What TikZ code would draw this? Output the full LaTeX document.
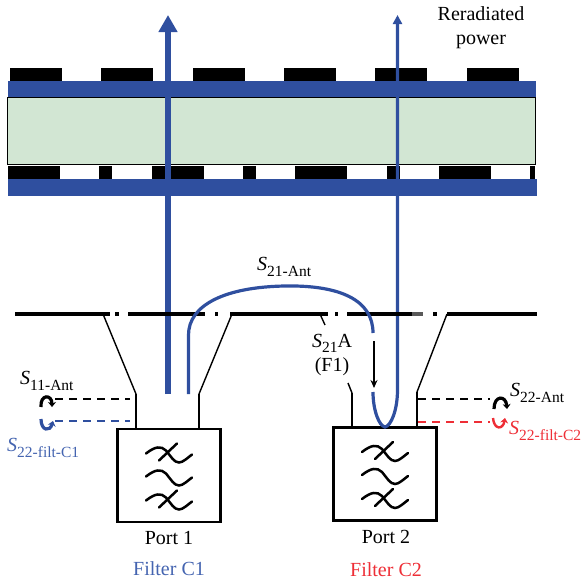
\documentclass[tikz,border=0pt]{standalone}
\usepackage{fontspec}
\setmainfont{Liberation Serif}
\usetikzlibrary{positioning, arrows.meta, calc}

\definecolor{bandblue}{HTML}{2F4F9F}
\definecolor{labelblue}{HTML}{4464B0}
\definecolor{labelred}{HTML}{EE2E36}
\definecolor{substrate}{HTML}{D2E6D3}

\newcommand{\sparam}[1]{\textit{S}\raisebox{-0.26em}{\fontsize{15.5}{15.5}\selectfont #1}}

\begin{document}
\begin{tikzpicture}[
                x=1pt,
                y=-1pt,
                >=stealth,
                every node/.style={font=\fontsize{20}{24.5}\selectfont, inner sep=0pt},
                patch/.style={fill=black, draw=none},
                band/.style={fill=bandblue, draw=none},
                horn/.style={line width=1.4pt},
                neck/.style={line width=2.2pt},
                filterbox/.style={draw, line width=2.6pt, fill=white, minimum width=103pt, minimum height=93pt},
                feed/.style={draw=bandblue, line width=3.2pt},
                probe/.style={dashed, dash pattern=on 8pt off 6pt, line width=1.3pt},
                loopback/.style={line width=3.2pt, -{Stealth[length=5pt, width=8pt]}},
                ground/.style={line width=4.2pt},
            ]
                \useasboundingbox (0,0) rectangle (582,581);

                % Draw the substrate and the two bands
                \node[draw, line width=1.1pt, fill=substrate, minimum width=528pt, minimum height=67pt, anchor=north west] (substrate) at (7,97) {};
                \node[band, minimum width=528pt, minimum height=16pt, anchor=north west] (band-top) at (8,81) {};
                \node[band, minimum width=529pt, minimum height=17pt, anchor=north west] (band-bottom) at (8,179) {};

                % Draw the patches above and below
                \foreach \name / \x in {1/10, 2/101, 3/193, 4/284, 5/375, 6/467}
                    \node[patch, minimum width=52pt, minimum height=13pt, anchor=south west] (T-\name) at (\x,81) {};
                \foreach \name / \x / \w in {1/8/52, 2/99/13, 3/152/52, 4/243/13, 5/295/52, 6/387/13, 7/439/52, 8/530/5}
                    \node[patch, minimum width=\w pt, minimum height=13pt, anchor=south west] (B-\name) at (\x,179) {};

                % Draw the two filters
                \node[filterbox] (F-1) at (169,475.5) {};
                \node[filterbox] (F-2) at (385,474) {};
                \foreach \name in {1, 2}
                    \foreach \y in {-22, 1, 25}
                        \draw[line width=2.5pt, line cap=round, shift={($(F-\name)+(0,\y)$)}]
                            (-23,0) .. controls (-14,-7) and (-8,-8) .. (-3,-3)
                            .. controls (2,3) and (5,9) .. (10,9)
                            .. controls (14,9) and (19,4) .. (23,1);
                \foreach \name in {1, 2}
                    \foreach \y in {-22, 25}
                        \draw[line width=2.5pt, line cap=round, shift={($(F-\name)+(0,\y)$)}] (-10,7) -- (8,-10);

                % Draw the horn walls
                \coordinate (H-1a) at (103,314);
                \coordinate (H-1b) at (136,394);
                \coordinate (H-1c) at (232,314);
                \coordinate (H-1d) at (199,394);
                \coordinate (H-2a) at (320,314);
                \coordinate (H-2b) at (325,325);
                \coordinate (H-2c) at (348,383);
                \coordinate (H-2d) at (352,393);
                \coordinate (H-2e) at (447,314);
                \coordinate (H-2f) at (417,392);
                \draw[horn] (H-1a) -- (H-1b);
                \draw[horn] (H-1c) -- (H-1d);
                \draw[horn] (H-2a) -- (H-2b);
                \draw[horn] (H-2c) -- (H-2d);
                \draw[horn] (H-2e) -- (H-2f);
                \draw[neck] (H-1b) -- (H-1b |- F-1.north);
                \draw[neck] (H-1d) -- (H-1d |- F-1.north);
                \draw[neck] (H-2d) -- (H-2d |- F-2.north);
                \draw[neck] (H-2f) -- (H-2f |- F-2.north);

                % Draw the radiating arrows
                \coordinate (A-1) at (168,394);
                \coordinate (A-1t) at (168,15);
                \coordinate (A-2) at (397.5,15);
                \coordinate (A-2s) at (373,392);
                \draw[bandblue, line width=6pt, -{Triangle[length=17pt, width=18pt]}] (A-1) -- (A-1t);
                \draw[bandblue, line width=3.2pt, {Triangle[length=9pt, width=9pt]}-] (A-2) -- (397.5,390)
                    .. controls (397.5,410) and (391,426) .. (385,427)
                    .. controls (379,426) and (373,410) .. (A-2s);

                % Draw the ground plane
                \foreach \a / \b in {15/110, 115/119, 128/205, 215/218, 230/328, 335/338, 347/412, 433/437, 447/537}
                    \draw[ground] (\a,314) -- (\b,314);
                \draw[ground, black!65] (412,314) -- (423,314);

                % Draw the coupling path
                \coordinate (C-1) at (188.5,394);
                \coordinate (C-2) at (373,333);
                \draw[feed] (C-1) -- (188.5,335)
                    .. controls (188.5,305) and (225,287) .. (285,286)
                    .. controls (340,285) and (373,300) .. (C-2);
                \draw[line width=1.8pt, -{Stealth[length=8pt, width=7pt]}] (374,341) -- (374,388);

                % Draw the reflection probes
                \coordinate (P-1) at (55,399);
                \coordinate (P-2) at (130,399);
                \coordinate (P-3) at (55,421);
                \coordinate (P-4) at (130,421);
                \coordinate (P-5) at (418,399);
                \coordinate (P-6) at (490,399);
                \coordinate (P-7) at (418,422);
                \coordinate (P-8) at (490,422);
                \draw[probe] (P-1) -- (P-2);
                \draw[probe, draw=bandblue] (P-3) -- (P-4);
                \draw[probe] (P-5) -- (P-6);
                \draw[probe, draw=labelred] (P-7) -- (P-8);
                \draw[loopback] (41,407) .. controls (40,394) and (52,394) .. (52,407);
                \draw[loopback, bandblue] (41,419) .. controls (41,431) and (50,432) .. (53,421);
                \draw[loopback] (494,409) .. controls (494,395) and (506,395) .. (507,409);
                \draw[loopback, labelred, line width=2.4pt] (493,418) .. controls (494,430) and (503,430) .. (505,418);

                % Draw the labels
                \node[align=center] (reradiated) at (481,27.5) {Reradiated\\power};
                \node[anchor=west] (s11) at (20,381) {\sparam{11-Ant}};
                \node[anchor=west, text=labelblue] (s22c1) at (7,448) {\sparam{22-filt-C1}};
                \node[anchor=west] (s21ant) at (257,267) {\sparam{21-Ant}};
                \node[align=center] (s21a) at (332,355) {\sparam{21}A\\(F1)};
                \node[anchor=west] (s22) at (510,393) {\sparam{22-Ant}};
                \node[anchor=west, text=labelred] (s22c2) at (509,431) {\sparam{22-filt-C2}};
                \node (port1) at (169,538) {Port 1};
                \node (port2) at (386,537) {Port 2};
                \node[text=labelblue] (filter1) at (169,569) {Filter C1};
                \node[text=labelred] (filter2) at (386,570) {Filter C2};
            \end{tikzpicture}
\end{document}
